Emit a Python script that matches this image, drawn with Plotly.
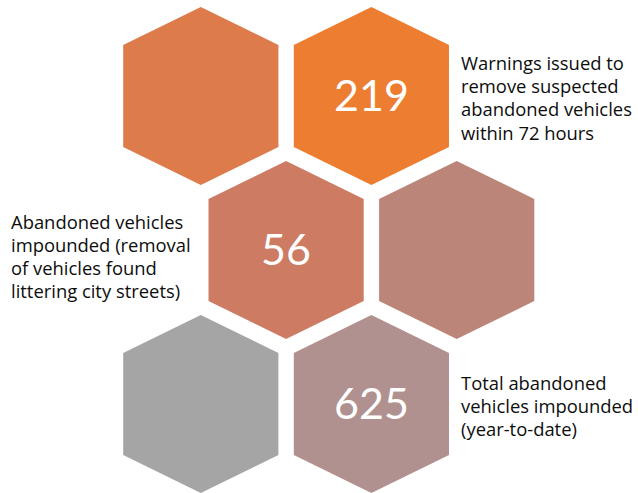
import plotly.graph_objects as go

# ---- data ----
values = ["", "219", "56", "", "", "625"]
hex_cols = [0, 1, 0.5, 1.5, 0, 1]
hex_rows = [0, 0, 1, 1, 2, 2]
hex_colors = ["#DD7B4B", "#ED7D31", "#CD7C63", "#BC857A", "#A5A5A5", "#B09190"]

label_warn = ["Warnings issued to", "remove suspected", "abandoned vehicles", "within 72 hours"]
label_imp = ["Abandoned vehicles", "impounded (removal", "of vehicles found", "littering city streets)"]
label_total = ["Total abandoned", "vehicles impounded", "(year-to-date)"]

# ---- layout geometry (pixel space) ----
W, H = 638, 493
X0, DX = 200.8, 170.6
Y0, DY = 96.0, 154.0
HW, HH, SH = 77.6, 89.0, 51.0

fig = go.Figure()
for c, r, col, v in zip(hex_cols, hex_rows, hex_colors, values):
    cx = X0 + c * DX
    cy = Y0 + r * DY
    xs = [cx, cx + HW, cx + HW, cx, cx - HW, cx - HW, cx]
    ys = [cy - HH, cy - SH, cy + SH, cy + HH, cy + SH, cy - SH, cy - HH]
    fig.add_trace(go.Scatter(x=xs, y=ys, fill="toself", fillcolor=col,
                             mode="lines", line=dict(width=0, color=col),
                             hoverinfo="skip", showlegend=False))
    if v:
        fig.add_annotation(x=cx, y=cy - 2, text=v, showarrow=False,
                           xanchor="center", yanchor="middle",
                           font=dict(family="Lato", size=43, color="white"))

def add_lines(lines, x, y_first, step=23.2):
    for i, t in enumerate(lines):
        fig.add_annotation(x=x, y=y_first + i * step, text=t, showarrow=False,
                           xanchor="left", yanchor="middle",
                           font=dict(family="Open Sans", size=18.4, color="#0d0d0d"))

add_lines(label_warn, 459, 62.5)
add_lines(label_imp, 9, 221)
add_lines(label_total, 459, 382.5)

fig.update_xaxes(range=[0, W], visible=False, fixedrange=True)
fig.update_yaxes(range=[H, 0], visible=False, fixedrange=True)
fig.update_layout(width=W, height=H, margin=dict(l=0, r=0, t=0, b=0),
                  plot_bgcolor="white", paper_bgcolor="white")
fig.write_html("out.html", config={"displayModeBar": False},
               post_script="document.body.style.margin='0';document.body.style.overflow='hidden';")
